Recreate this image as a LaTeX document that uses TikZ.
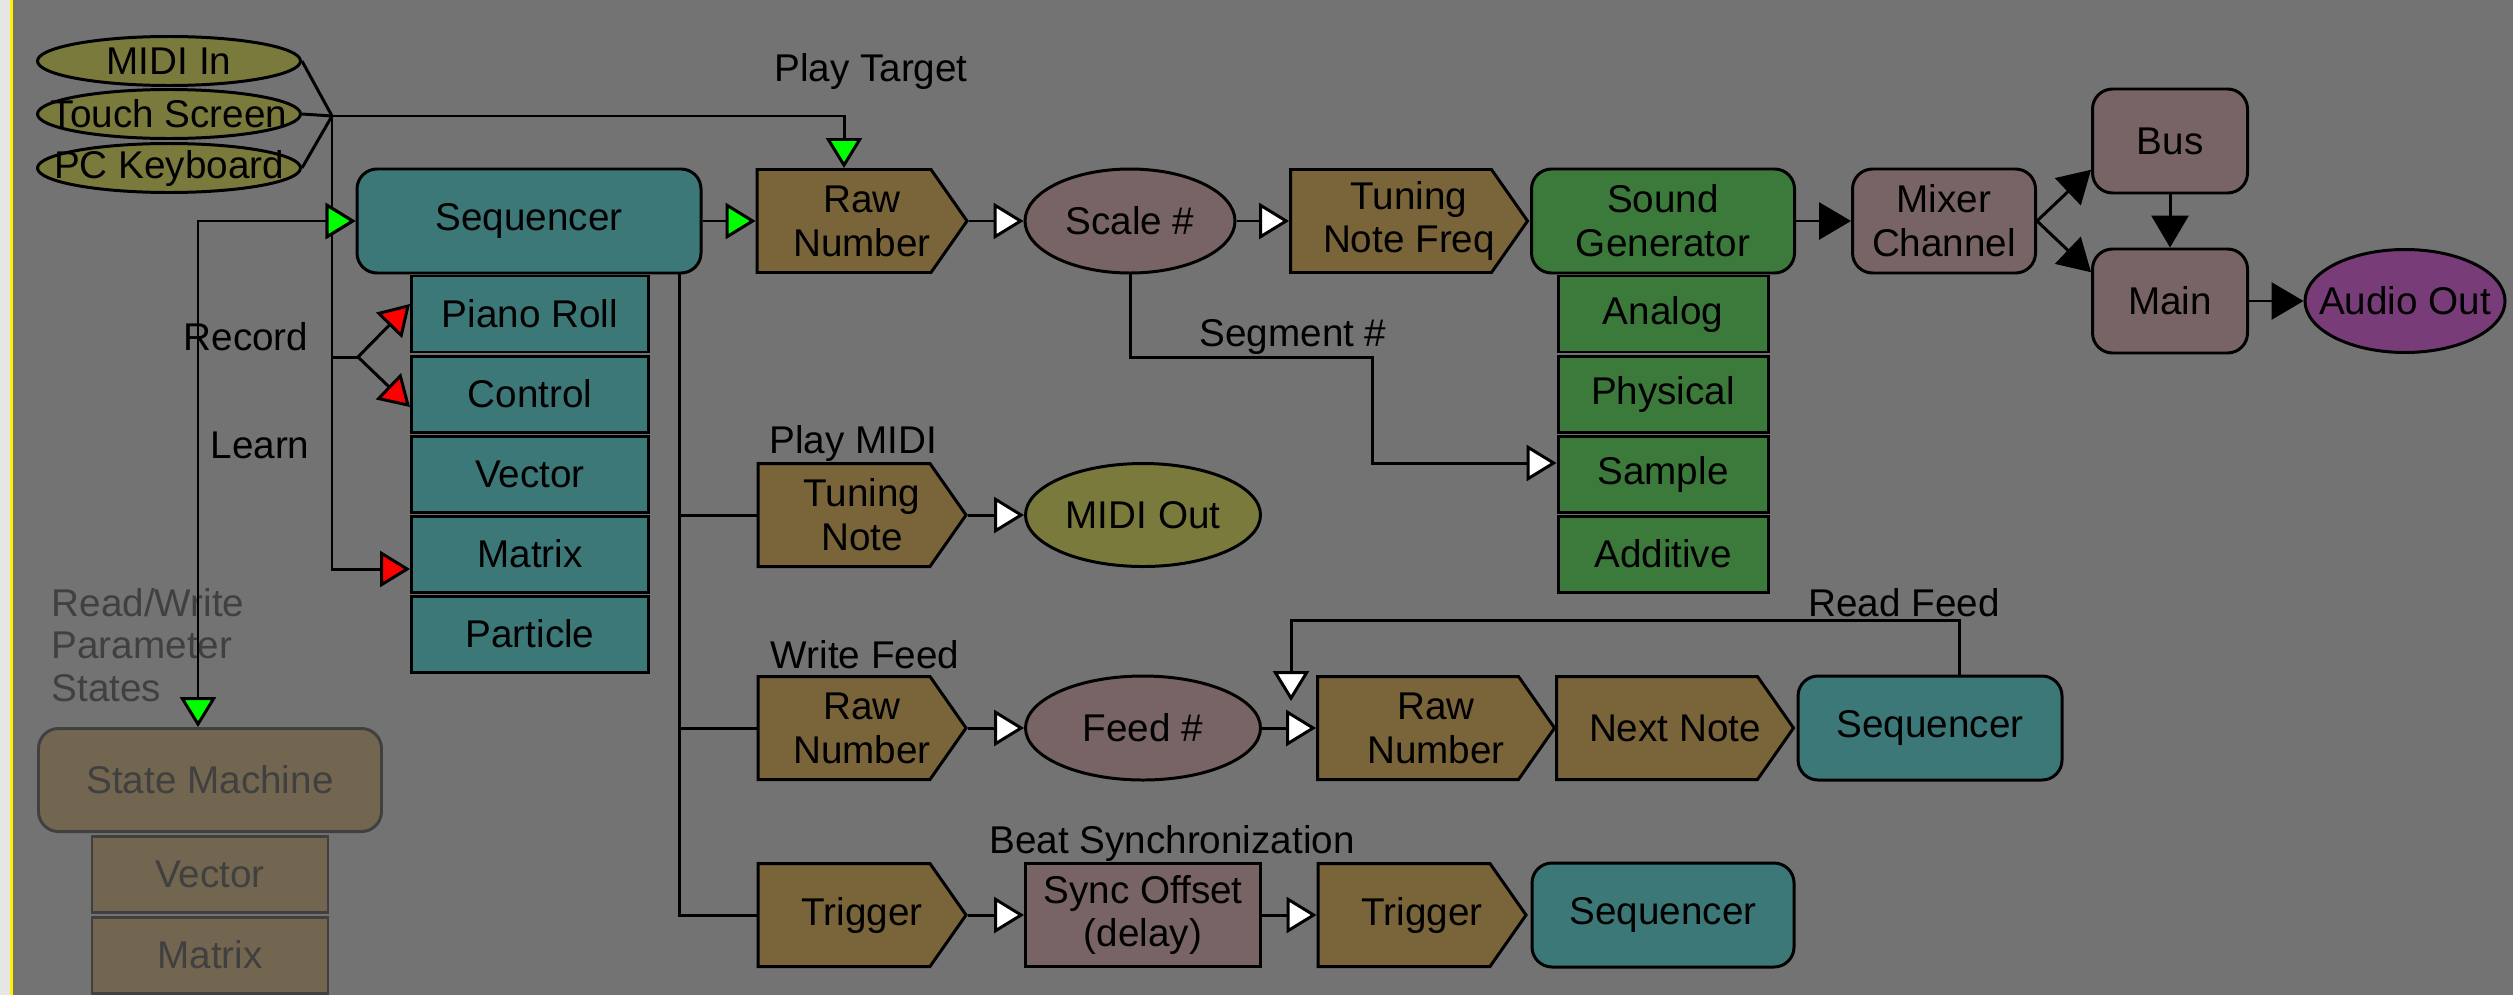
\documentclass[tikz,border=0pt]{standalone}
\usepackage{fontspec}
\setmainfont{Liberation Sans}
\usetikzlibrary{positioning,shapes.geometric,shapes.symbols,arrows.meta,calc}

\definecolor{bggray}{RGB}{115,115,115}
\definecolor{stripc}{RGB}{230,230,230}
\definecolor{olivec}{RGB}{122,122,60}
\definecolor{tealc}{RGB}{60,120,120}
\definecolor{brownc}{RGB}{122,100,57}
\definecolor{mauvec}{RGB}{120,100,100}
\definecolor{greenc}{RGB}{60,122,60}
\definecolor{purplec}{RGB}{120,60,120}
\definecolor{smfill}{RGB}{115,102,80}
\definecolor{smline}{RGB}{64,64,64}

\tikzset{
  gtip/.tip={Triangle[length=3mm,width=3.6mm,fill=green]},
  rtip/.tip={Triangle[length=3mm,width=3.6mm,fill=red]},
  wtip/.tip={Triangle[length=3mm,width=3.6mm,fill=white]},
  btip/.tip={Triangle[length=3.2mm,width=3.7mm,fill=black]},
}

\begin{document}
\begin{tikzpicture}[x=0.1mm,y=-0.1mm,
  every node/.style={font=\fontsize{11}{12.5}\selectfont,align=center},
  conn/.style={line width=0.85pt},
  inport/.style={ellipse,draw,fill=olivec,line width=0.85pt,minimum width=26.3mm,minimum height=4.9mm,inner sep=0pt,label=center:#1},
  seqbox/.style={rectangle,rounded corners=2mm,draw,fill=tealc,line width=0.85pt,minimum height=10.4mm,inner sep=0pt},
  seqsub/.style={rectangle,draw,fill=tealc,line width=0.85pt,minimum width=23.7mm,minimum height=7.6mm,inner sep=0pt},
  numbox/.style={signal,signal to=east,signal pointer angle=110,draw,fill=brownc,line width=0.85pt,minimum height=10.3mm,inner sep=0pt,label={[xshift=1.8mm]center:#1}},
  numell/.style={ellipse,draw,fill=mauvec,line width=0.85pt,minimum height=10.4mm,inner sep=0pt},
  mixbox/.style={rectangle,rounded corners=2mm,draw,fill=mauvec,line width=0.85pt,minimum height=10.4mm,inner sep=0pt},
  genbox/.style={rectangle,rounded corners=2mm,draw,fill=greenc,line width=0.85pt,minimum width=26.3mm,minimum height=10.4mm,inner sep=0pt},
  gensub/.style={rectangle,draw,fill=greenc,line width=0.85pt,minimum width=21mm,minimum height=7.6mm,inner sep=0pt},
  smbox/.style={rectangle,rounded corners=2mm,draw=smline,fill=smfill,text=smline,line width=0.85pt,minimum width=34.3mm,minimum height=10.3mm,inner sep=0pt},
  smsub/.style={rectangle,draw=smline,fill=smfill,text=smline,line width=0.85pt,minimum width=23.6mm,minimum height=7.6mm,inner sep=0pt},
]
\useasboundingbox (0,0) rectangle (2513,995);
\fill[bggray] (0,0) rectangle (2513,995);
\fill[stripc] (0,0) rectangle (10,995);
\fill[yellow] (10,0) rectangle (13,995);

% inputs
\node[inport=MIDI In] (midiin) at (169,61) {};
\node[inport=Touch Screen] (touch) at (169,114) {};
\node[inport=PC Keyboard] (pckey) at (169,168) {};
\coordinate (J) at (332,116);
\coordinate (fork) at (358,357);

% sequencer and its parts
\node[seqbox,minimum width=34.4mm] (seq) at (529,221) {Sequencer};
\foreach \name/\txt [count=\i] in {pr/Piano Roll,ctl/Control,vec/Vector,mtx/Matrix,prt/Particle}
  \node[seqsub] (\name) at (530,234+80*\i) {\txt};

% state machine
\node[smbox] (sm) at (210,780) {State Machine};
\node[smsub] (smvec) at (210,874) {Vector};
\node[smsub] (smmtx) at (210,955) {Matrix};

% note path
\node[numbox={Raw\\Number},minimum width=21mm] (rn) at (844,221) {};
\node[numell,minimum width=21mm] (scale) at (1130,221) {Scale \#};
\node[numbox={Tuning\\Note Freq},minimum width=23.7mm] (tnf) at (1391,221) {};
\node[genbox] (sg) at (1663,221) {Sound\\Generator};
\foreach \name/\txt [count=\i] in {ana/Analog,phy/Physical,smp/Sample,add/Additive}
  \node[gensub] (\name) at (1663,234+80*\i) {\txt};
\node[mixbox,minimum width=18.3mm] (mix) at (1944,221) {Mixer\\Channel};
\node[mixbox,minimum width=15.5mm] (bus) at (2170,141) {Bus};
\node[mixbox,minimum width=15.5mm] (main) at (2170,301) {Main};
\node[ellipse,draw,fill=purplec,line width=0.85pt,minimum width=20mm,minimum height=10.3mm,inner sep=0pt,label=center:Audio Out] (aout) at (2405,301) {};

% midi out
\node[numbox={Tuning\\Note},minimum width=20.8mm] (tn) at (844,515) {};
\node[inport=MIDI Out,minimum width=23.5mm,minimum height=10.3mm] (mout) at (1143,515) {};

% feed
\node[numbox={Raw\\Number},minimum width=20.8mm] (rnw) at (844,728) {};
\node[numell,minimum width=23.5mm] (feed) at (1143,728) {Feed \#};
\node[numbox={Raw\\Number},minimum width=23.7mm] (rnr) at (1418,728) {};
\node[numbox={Next Note},minimum width=23.7mm] (next) at (1657,728) {};
\node[seqbox,minimum width=26.4mm] (seqf) at (1930,728) {Sequencer};

% beat sync
\node[numbox=Trigger,minimum width=20.8mm] (trg) at (844,915) {};
\node[rectangle,draw,fill=mauvec,line width=0.85pt,minimum width=23.5mm,minimum height=10.3mm,inner sep=0pt] (sync) at (1143,915) {Sync Offset\\(delay)};
\node[numbox=Trigger,minimum width=20.8mm] (trg2) at (1404,915) {};
\node[seqbox,minimum width=26.2mm] (seqb) at (1663,915) {Sequencer};

% labels
\node (lplay) at (871,72) {Play Target};
\node (lrec) at (246,337) {Record};
\node (llearn) at (260,445) {Learn};
\node (lseg) at (1293,337) {Segment \#};
\node (lmidi) at (853,443) {Play MIDI};
\node (lread) at (1904,603) {Read Feed};
\node (lwrite) at (865,655) {Write Feed};
\node (lbeat) at (1172,843) {Beat Synchronization};
\node[anchor=west,align=left,inner sep=0pt,text=smline,font=\fontsize{11}{12}\selectfont] (lstate) at (51,645) {Read/Write\\Parameter\\States};

% connectors
\draw[conn] (midiin.east) -- (J);
\draw[conn] (touch.east) -- (J);
\draw[conn] (pckey.east) -- (J);
\draw[conn,-gtip] (J) -| (rn.north);
\draw[conn,-rtip] (J) |- ($(mtx.west)+(0,15)$);
\draw[conn,-gtip] (J |- seq.west) -- (seq.west);
\draw[conn,gtip-gtip] (seq.west) -| ([xshift=-1.2mm]sm.north);
\draw[conn] (J |- fork) -- (fork);
\draw[conn,-rtip] (fork) -- ($(pr.west)+(0,-10)$);
\draw[conn,-rtip] (fork) -- ($(ctl.west)+(0,13)$);

\coordinate (tap) at ($(seq.south east)+(-23,0)$);
\draw[conn] (tap) |- (trg.west);
\draw[conn] (tap |- tn.west) -- (tn.west);
\draw[conn] (tap |- rnw.west) -- (rnw.west);

\draw[conn,-gtip] (seq.east) -- (rn.west);
\draw[conn,-wtip] (rn.east) -- (scale.west);
\draw[conn,-wtip] (scale.east) -- (tnf.west);
\draw[conn,-btip] (sg.east) -- (mix.west);
\draw[conn,-btip] (mix.east) -- (bus.200);
\draw[conn,-btip] (mix.east) -- (main.160);
\draw[conn,-btip] (bus.south) -- (main.north);
\draw[conn,-btip] (main.east) -- (aout.west);
\coordinate (segbend) at (1372,357);
\draw[conn,-wtip] (scale.south) |- (segbend) |- ($(smp.west)+(0,-11)$);

\draw[conn,-wtip] (tn.east) -- (mout.west);
\draw[conn,-wtip] (rnw.east) -- (feed.west);
\draw[conn,-wtip] (feed.east) -- (rnr.west);
\coordinate (rfin) at (1291,701);
\draw[conn,-wtip] ([xshift=2.9mm]seqf.north) -- ++(0,-54) -| (rfin);
\draw[conn,-wtip] (trg.east) -- (sync.west);
\draw[conn,-wtip] (sync.east) -- (trg2.west);
\end{tikzpicture}
\end{document}
